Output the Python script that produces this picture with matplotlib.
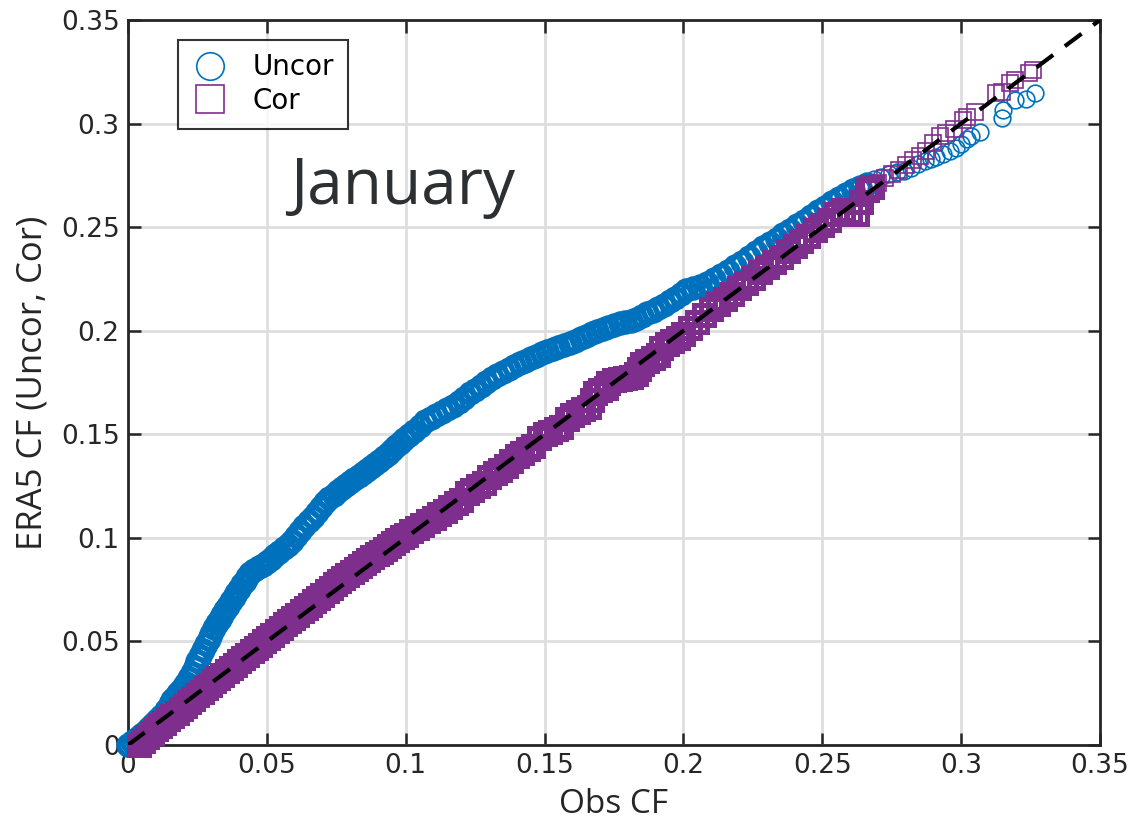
import numpy as np
import matplotlib.pyplot as plt

# quantile pairs (obs CF, ERA5 CF)
uncor_pts = [
    (0.000, 0.000), (0.0015, 0.0015), (0.003, 0.003), (0.0045, 0.0048), (0.006, 0.0065),
    (0.0075, 0.0083), (0.009, 0.010), (0.0105, 0.012), (0.012, 0.014), (0.0135, 0.017),
    (0.015, 0.020), (0.016, 0.0218), (0.017, 0.0234), (0.018, 0.025), (0.019, 0.0266),
    (0.020, 0.0283), (0.021, 0.030), (0.022, 0.0325), (0.023, 0.035), (0.024, 0.0378),
    (0.025, 0.0405), (0.026, 0.0432), (0.027, 0.046), (0.028, 0.0486), (0.029, 0.0512),
    (0.030, 0.0538), (0.031, 0.0564), (0.032, 0.059), (0.033, 0.061), (0.034, 0.063),
    (0.035, 0.065), (0.036, 0.067), (0.037, 0.0693), (0.038, 0.0715), (0.039, 0.0735),
    (0.040, 0.0755), (0.041, 0.0775), (0.042, 0.0793), (0.043, 0.0812), (0.044, 0.083),
    (0.0455, 0.0845), (0.047, 0.0858), (0.0485, 0.087), (0.050, 0.0884), (0.0515, 0.0898),
    (0.053, 0.0915), (0.0545, 0.0932), (0.056, 0.095), (0.0575, 0.0967), (0.059, 0.0987),
    (0.0605, 0.101), (0.062, 0.1033), (0.0635, 0.1057), (0.065, 0.108), (0.0665, 0.1103),
    (0.068, 0.1126), (0.0695, 0.115), (0.071, 0.1172), (0.0725, 0.1192), (0.074, 0.1208),
    (0.0755, 0.1224), (0.077, 0.124), (0.0785, 0.1255), (0.080, 0.127), (0.0815, 0.1284),
    (0.083, 0.1298), (0.0845, 0.1312), (0.086, 0.1326), (0.0875, 0.134), (0.089, 0.1355),
    (0.0905, 0.1372), (0.092, 0.139), (0.0935, 0.1407), (0.095, 0.1425), (0.0965, 0.1442),
    (0.098, 0.146), (0.0995, 0.1475), (0.101, 0.1495), (0.103, 0.1518), (0.105, 0.154),
    (0.107, 0.1562), (0.109, 0.1578), (0.111, 0.1592), (0.113, 0.1607), (0.115, 0.1622),
    (0.117, 0.1638), (0.119, 0.1657), (0.121, 0.1677), (0.123, 0.1697), (0.125, 0.1716),
    (0.127, 0.1734), (0.129, 0.1752), (0.131, 0.177), (0.133, 0.1788), (0.135, 0.1803),
    (0.137, 0.1816), (0.139, 0.1829), (0.141, 0.1842), (0.143, 0.1855), (0.145, 0.1867),
    (0.147, 0.1878), (0.149, 0.189), (0.151, 0.1901), (0.153, 0.1912), (0.155, 0.1922),
    (0.157, 0.1932), (0.159, 0.1942), (0.161, 0.1952), (0.163, 0.1963), (0.165, 0.1975),
    (0.167, 0.1987), (0.169, 0.1998), (0.171, 0.201), (0.173, 0.202), (0.175, 0.2028),
    (0.177, 0.2035), (0.179, 0.2042), (0.181, 0.2049), (0.183, 0.2058), (0.185, 0.2071),
    (0.187, 0.2084), (0.189, 0.2097), (0.191, 0.211), (0.193, 0.2125), (0.195, 0.2142),
    (0.197, 0.216), (0.199, 0.2177), (0.201, 0.2195), (0.2035, 0.2205), (0.206, 0.2218),
    (0.2085, 0.2232), (0.211, 0.2248), (0.2135, 0.2268), (0.216, 0.229), (0.2185, 0.2311),
    (0.221, 0.2332), (0.2235, 0.2355), (0.226, 0.2378), (0.2285, 0.2402), (0.231, 0.2424),
    (0.2335, 0.2445), (0.236, 0.2466), (0.2385, 0.2488), (0.241, 0.251), (0.2435, 0.2532),
    (0.246, 0.2555), (0.2485, 0.2577), (0.251, 0.2598), (0.2535, 0.2619), (0.256, 0.264),
    (0.2585, 0.266), (0.261, 0.2678), (0.2635, 0.2694), (0.266, 0.271), (0.2685, 0.273),
    (0.271, 0.2742), (0.274, 0.2755), (0.277, 0.2764), (0.2795, 0.2773), (0.282, 0.2787),
    (0.2845, 0.2803), (0.287, 0.2818), (0.289, 0.2829), (0.291, 0.284), (0.2935, 0.2855),
    (0.296, 0.2868), (0.298, 0.288), (0.300, 0.2902), (0.302, 0.2925), (0.3035, 0.2938),
    (0.3068, 0.296), (0.3147, 0.3027), (0.315, 0.3066), (0.3194, 0.3114), (0.3234, 0.312),
    (0.3266, 0.3148),
]

cor_pts = [
    (0.004, 0.000), (0.0055, 0.002), (0.007, 0.004), (0.0085, 0.0058), (0.010, 0.0075),
    (0.0115, 0.0092), (0.013, 0.0108), (0.0145, 0.0124), (0.016, 0.014), (0.0175, 0.0157),
    (0.019, 0.0173), (0.0205, 0.019), (0.022, 0.0206), (0.0235, 0.0223), (0.025, 0.024),
    (0.0265, 0.0257), (0.028, 0.0274), (0.0295, 0.0291), (0.031, 0.0308), (0.0325, 0.0324),
    (0.034, 0.034), (0.0355, 0.0356), (0.037, 0.0372), (0.0385, 0.0388), (0.040, 0.0404),
    (0.0415, 0.042), (0.043, 0.0436), (0.0445, 0.0452), (0.046, 0.0468), (0.0475, 0.0484),
    (0.049, 0.050), (0.0505, 0.0516), (0.052, 0.0532), (0.0535, 0.0549), (0.055, 0.0566),
    (0.0565, 0.0582), (0.058, 0.0598), (0.0595, 0.0614), (0.061, 0.063), (0.0625, 0.0646),
    (0.064, 0.0662), (0.0655, 0.0678), (0.067, 0.0694), (0.0685, 0.071), (0.070, 0.0726),
    (0.0715, 0.0742), (0.073, 0.0758), (0.0745, 0.0775), (0.076, 0.0792), (0.0775, 0.0808),
    (0.079, 0.0822), (0.0805, 0.0836), (0.082, 0.085), (0.0835, 0.0864), (0.085, 0.0878),
    (0.0865, 0.0892), (0.088, 0.0906), (0.0895, 0.092), (0.091, 0.0934), (0.0925, 0.0948),
    (0.094, 0.0962), (0.0955, 0.0976), (0.097, 0.099), (0.0985, 0.1003), (0.100, 0.1016),
    (0.102, 0.1032), (0.104, 0.1048), (0.106, 0.1064), (0.108, 0.108), (0.110, 0.1096),
    (0.112, 0.1113), (0.114, 0.113), (0.116, 0.1148), (0.118, 0.1166), (0.120, 0.1184),
    (0.122, 0.1215), (0.124, 0.1232), (0.126, 0.1248), (0.128, 0.1264), (0.130, 0.1295),
    (0.132, 0.1312), (0.134, 0.1328), (0.136, 0.1345), (0.138, 0.1372), (0.140, 0.1395),
    (0.142, 0.1412), (0.144, 0.1428), (0.146, 0.1445), (0.148, 0.1482), (0.150, 0.150),
    (0.152, 0.1512), (0.154, 0.1524), (0.156, 0.1536), (0.158, 0.1575), (0.160, 0.1595),
    (0.162, 0.1608), (0.164, 0.162), (0.166, 0.1632), (0.167, 0.1665), (0.168, 0.170),
    (0.170, 0.1712), (0.172, 0.1725), (0.173, 0.175), (0.175, 0.1762), (0.177, 0.1768),
    (0.179, 0.1772), (0.181, 0.1778), (0.183, 0.179), (0.184, 0.1815), (0.185, 0.184),
    (0.187, 0.1852), (0.189, 0.1866), (0.191, 0.1885), (0.192, 0.1915), (0.194, 0.1935),
    (0.196, 0.195), (0.198, 0.1965), (0.200, 0.1985), (0.2025, 0.2015), (0.205, 0.204),
    (0.2075, 0.2075), (0.210, 0.2105), (0.2125, 0.213), (0.215, 0.2152), (0.2175, 0.2175),
    (0.220, 0.2205), (0.2225, 0.223), (0.225, 0.2255), (0.2275, 0.2282), (0.230, 0.2308),
    (0.2325, 0.233), (0.235, 0.2355), (0.2375, 0.2385), (0.240, 0.241), (0.2425, 0.2432),
    (0.245, 0.2458), (0.2475, 0.2485), (0.250, 0.2508), (0.2525, 0.2535), (0.255, 0.2565),
    (0.2575, 0.2585), (0.260, 0.2575), (0.2625, 0.2565), (0.264, 0.262), (0.266, 0.268),
    (0.268, 0.2695), (0.270, 0.2712), (0.2725, 0.2738), (0.275, 0.2755), (0.2775, 0.2775),
    (0.280, 0.2798), (0.2825, 0.2825), (0.285, 0.2845), (0.2875, 0.2868), (0.290, 0.2905),
    (0.2925, 0.294), (0.2945, 0.2955), (0.2975, 0.2975), (0.3005, 0.3018), (0.302, 0.3032),
    (0.305, 0.3056), (0.3125, 0.3147), (0.3147, 0.3153), (0.3175, 0.3195), (0.3194, 0.321),
    (0.3245, 0.3245), (0.326, 0.326),
]

ticks = [0, 0.05, 0.1, 0.15, 0.2, 0.25, 0.3, 0.35]
tick_labels = ['0', '0.05', '0.1', '0.15', '0.2', '0.25', '0.3', '0.35']

uncor = np.array(uncor_pts)
cor = np.array(cor_pts)
BLUE = '#0072BD'
PURPLE = '#7E2F8E'
TXT = '#262626'

fig = plt.figure(figsize=(11.35, 8.39), dpi=100)
ax = fig.add_axes([0.1128, 0.112, 0.8564, 0.8642])

# where the quantiles are packed the rings merge into a solid band,
# further up they stand apart as thin open markers
dense_u = uncor[:, 0] <= 0.268
dense_c = cor[:, 0] <= 0.268
ax.plot(uncor[dense_u, 0], uncor[dense_u, 1], 'o', mfc='none', mec=BLUE, ms=14, mew=3.6,
        clip_on=False, zorder=3)
ax.plot(uncor[~dense_u, 0], uncor[~dense_u, 1], 'o', mfc='none', mec=BLUE, ms=12, mew=1.2,
        clip_on=False, zorder=3)
ax.plot(cor[dense_c, 0], cor[dense_c, 1], 's', mfc='none', mec=PURPLE, ms=14, mew=3.6,
        clip_on=False, zorder=4)
ax.plot(cor[~dense_c, 0], cor[~dense_c, 1], 's', mfc='none', mec=PURPLE, ms=12, mew=1.2,
        clip_on=False, zorder=4)
ax.plot([0, 0.35], [0, 0.35], '--', color='black', lw=3, dashes=(5, 3.5), zorder=5)

# legend handles
h1, = ax.plot([], [], 'o', mfc='none', mec=BLUE, ms=11, mew=1.2, label='Uncor')
h2, = ax.plot([], [], 's', mfc='none', mec=PURPLE, ms=11, mew=1.2, label='Cor')

ax.set_xlim(0, 0.35)
ax.set_ylim(0, 0.35)
ax.set_xticks(ticks)
ax.set_xticklabels(tick_labels)
ax.set_yticks(ticks)
ax.set_yticklabels(tick_labels)
ax.tick_params(direction='in', top=True, right=True, length=9, width=1.8,
               labelsize=19, colors=TXT, pad=6)
for s in ax.spines.values():
    s.set_linewidth(2)
    s.set_color(TXT)
ax.grid(True, color='#dedede', linewidth=2)
ax.set_axisbelow(True)

ax.set_xlabel('Obs CF', fontsize=24, family='Open Sans', color=TXT, labelpad=6)
ax.set_ylabel('ERA5 CF (Uncor, Cor)', fontsize=25, family='Open Sans', color=TXT, labelpad=8)

ax.text(0.099, 0.2695, 'January', fontsize=46, family='Open Sans', color='#2d3033',
        ha='center', va='center')

leg = ax.legend(handles=[h1, h2], loc='upper left', bbox_to_anchor=(0.051, 0.973),
                fontsize=20, markerscale=1.8, frameon=True, fancybox=False,
                borderpad=0.5, labelspacing=0.2, handletextpad=0.9,
                handlelength=1.3, borderaxespad=0)
leg.get_frame().set_edgecolor('black')
leg.get_frame().set_linewidth(1.5)

fig.savefig('out.png', dpi=100)
